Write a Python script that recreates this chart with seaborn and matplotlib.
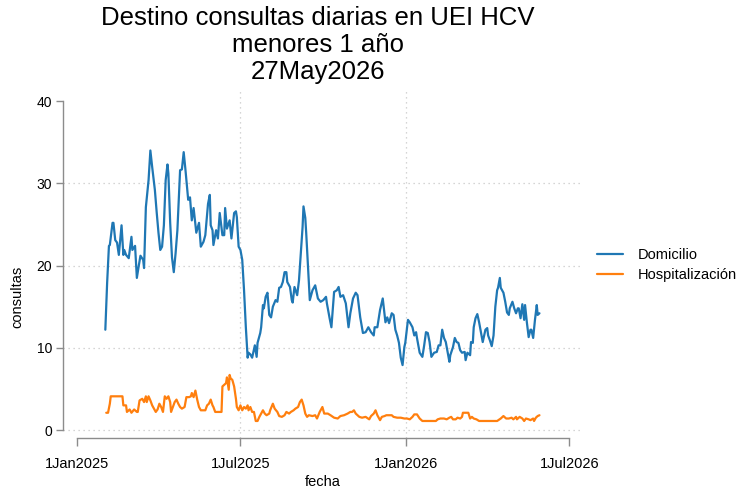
import matplotlib
matplotlib.use("Agg")
import matplotlib.dates as mdates
import matplotlib.pyplot as plt
import pandas as pd
import seaborn as sns

INICIO = "2025-01-01"

# dias desde INICIO y valor diario
DOM_DIA = [
    31, 33, 35, 36, 39, 40, 42, 44, 46, 49, 51, 52, 54, 57, 60, 61, 64, 66, 68, 70,
    73, 74, 76, 79, 81, 83, 86, 88, 90, 92, 94, 96, 98, 100, 101, 103, 105, 107, 109, 111,
    114, 116, 118, 120, 123, 125, 127, 129, 132, 135, 137, 140, 142, 145, 147, 148, 150, 151, 154, 156,
    158, 161, 163, 164, 166, 169, 171, 174, 176, 177, 179, 181, 183, 185, 187, 189, 190, 192, 194, 197,
    199, 200, 203, 204, 206, 207, 209, 211, 213, 215, 217, 220, 222, 224, 226, 228, 230, 232, 233, 236,
    238, 239, 241, 244, 246, 248, 250, 251, 253, 254, 256, 258, 261, 264, 267, 270, 273, 276, 277, 280,
    282, 285, 288, 290, 292, 295, 298, 301, 303, 306, 309, 311, 314, 317, 320, 323, 326, 329, 330, 333,
    336, 339, 340, 342, 344, 346, 349, 351, 353, 355, 357, 359, 361, 363, 364, 367, 369, 372, 374, 376,
    377, 380, 383, 385, 387, 389, 391, 393, 396, 399, 401, 403, 405, 407, 409, 411, 413, 414, 417, 419,
    421, 423, 425, 427, 430, 431, 433, 436, 437, 439, 440, 442, 444, 446, 448, 450, 451, 453, 455, 456,
    458, 460, 462, 464, 466, 467, 469, 470, 473, 475, 477, 479, 480, 483, 485, 487, 489, 490, 492, 494,
    496, 497, 499, 501, 503, 504, 506, 508, 510, 511, 513,
]
DOM_VAL = [
    12.2, 17.9, 22.4, 22.5, 25.2, 25.2, 23.1, 22.8, 21.3, 24.9, 21.3, 21.9, 21.3, 20.9, 23.5, 21.9, 22.4, 18.5, 19.9, 21.2,
    20.7, 19.7, 27.1, 30.4, 34.0, 32.0, 29.2, 26.5, 24.0, 21.9, 22.3, 24.9, 30.4, 32.3, 31.2, 25.2, 21.0, 19.2, 21.5, 24.3,
    31.6, 31.7, 33.8, 31.6, 28.0, 28.3, 25.5, 27.0, 24.0, 25.2, 22.3, 22.9, 23.7, 27.5, 28.6, 24.9, 24.3, 22.5, 24.3, 23.3,
    26.4, 23.7, 23.7, 27.0, 24.5, 25.5, 23.3, 26.4, 26.6, 25.9, 22.3, 21.9, 20.7, 17.0, 12.5, 8.8, 9.4, 9.2, 8.8, 10.3,
    8.9, 10.6, 11.8, 12.5, 15.2, 14.8, 16.2, 16.7, 14.0, 13.7, 15.0, 15.8, 15.6, 17.3, 17.4, 18.0, 19.2, 19.2, 18.0, 17.4,
    15.8, 15.5, 17.4, 16.4, 18.2, 21.5, 24.7, 27.2, 25.8, 24.0, 19.8, 15.8, 17.0, 17.6, 16.0, 15.6, 15.8, 16.2, 15.4, 13.6,
    12.5, 16.8, 17.0, 17.4, 16.2, 16.4, 15.4, 12.5, 14.2, 16.0, 16.7, 16.4, 13.7, 11.8, 11.9, 12.5, 11.9, 11.5, 12.5, 12.5,
    14.6, 16.0, 15.0, 13.1, 13.7, 13.0, 14.2, 14.0, 12.2, 11.5, 10.6, 8.8, 7.9, 10.1, 10.6, 13.4, 13.1, 12.5, 11.5, 11.9,
    11.2, 9.4, 8.9, 10.3, 11.9, 11.8, 10.7, 8.9, 9.4, 9.5, 10.3, 10.3, 12.2, 11.2, 10.7, 9.5, 8.3, 9.1, 10.1, 11.2,
    10.7, 10.6, 9.7, 9.4, 9.5, 8.5, 9.4, 9.1, 10.7, 10.6, 12.5, 13.6, 14.1, 13.1, 11.9, 10.7, 11.2, 12.2, 12.4, 11.5,
    10.9, 10.2, 11.5, 15.0, 17.0, 17.3, 18.5, 17.3, 16.7, 15.6, 14.3, 14.0, 14.8, 15.6, 14.8, 14.2, 14.8, 14.8, 13.6, 15.3,
    13.4, 15.2, 13.1, 11.3, 12.2, 12.2, 11.2, 13.4, 15.2, 14.0, 14.2,
]

HOS_DIA = [
    32, 34, 36, 37, 43, 50, 51, 54, 55, 58, 60, 63, 66, 67, 69, 72, 74, 76, 77, 79,
    81, 83, 85, 87, 89, 91, 93, 95, 97, 99, 101, 103, 104, 106, 108, 110, 112, 114, 116, 119,
    121, 124, 126, 127, 129, 131, 133, 135, 137, 140, 142, 144, 146, 148, 150, 151, 153, 157, 160, 161,
    163, 165, 166, 168, 169, 170, 172, 174, 176, 177, 179, 181, 183, 185, 187, 189, 190, 192, 194, 196,
    198, 200, 202, 204, 206, 208, 210, 213, 214, 217, 219, 222, 224, 227, 230, 232, 235, 237, 240, 242,
    245, 247, 249, 251, 253, 255, 257, 261, 264, 266, 269, 272, 274, 278, 281, 285, 289, 292, 296, 300,
    303, 305, 307, 309, 313, 316, 320, 324, 326, 329, 331, 333, 336, 338, 341, 343, 346, 349, 351, 355,
    359, 363, 366, 369, 372, 374, 377, 380, 383, 398, 400, 403, 407, 410, 413, 415, 417, 420, 422, 425,
    427, 428, 434, 436, 438, 440, 443, 446, 466, 470, 473, 476, 479, 482, 484, 487, 488, 491, 494, 496,
    498, 501, 503, 506, 507, 509, 511, 513,
]
HOS_VAL = [
    2.1, 2.1, 3.2, 4.1, 4.1, 4.1, 3.0, 3.0, 2.2, 2.5, 2.1, 2.5, 2.2, 2.2, 3.6, 3.8, 3.4, 4.1, 3.4, 4.1,
    3.6, 3.0, 2.6, 2.2, 2.5, 3.2, 2.8, 2.2, 4.1, 3.8, 4.1, 3.4, 2.2, 2.8, 3.4, 3.7, 3.2, 2.8, 2.6, 2.8,
    4.0, 4.0, 4.1, 4.5, 4.0, 4.8, 3.7, 2.8, 2.4, 2.4, 2.4, 3.0, 3.2, 3.7, 3.0, 2.8, 2.2, 2.2, 2.2, 5.3,
    5.5, 5.7, 6.4, 4.9, 6.7, 6.3, 6.1, 5.3, 3.8, 2.8, 2.4, 3.0, 2.4, 2.8, 2.6, 3.0, 2.4, 2.8, 2.2, 2.2,
    1.1, 1.1, 1.6, 2.0, 2.4, 2.0, 1.8, 2.0, 2.4, 3.2, 2.6, 2.2, 1.7, 1.6, 1.8, 2.2, 2.0, 2.2, 2.4, 2.6,
    2.8, 3.4, 3.7, 3.0, 2.0, 1.6, 1.8, 1.7, 1.8, 1.4, 2.2, 2.8, 2.0, 2.0, 1.8, 1.5, 1.4, 1.7, 1.8, 2.0,
    2.2, 2.2, 2.4, 2.0, 1.6, 1.5, 1.6, 1.3, 1.7, 2.0, 2.4, 1.8, 1.2, 1.6, 1.7, 1.8, 1.8, 1.8, 1.6, 1.5,
    1.5, 1.4, 1.4, 1.3, 1.6, 1.9, 1.9, 1.4, 1.1, 1.1, 1.3, 1.4, 1.4, 1.3, 1.5, 1.6, 1.3, 1.3, 1.5, 1.4,
    1.6, 2.1, 2.1, 1.4, 1.6, 1.4, 1.3, 1.1, 1.1, 1.4, 1.7, 1.4, 1.4, 1.5, 1.3, 1.6, 1.3, 1.6, 1.4, 1.1,
    1.4, 1.3, 1.2, 1.4, 1.1, 1.5, 1.7, 1.8,
]

SERIES = ["Domicilio", "Hospitalización"]
COLORES = ["#1f77b4", "#ff7f0e"]
Y_TICKS = [0, 10, 20, 30, 40]
X_TICKS = ["2025-01-01", "2025-07-01", "2026-01-01", "2026-07-01"]
X_LABELS = ["1Jan2025", "1Jul2025", "1Jan2026", "1Jul2026"]
TITULO = "Destino consultas diarias en UEI HCV\nmenores 1 año\n27May2026"

assert len(DOM_DIA) == len(DOM_VAL)
assert len(HOS_DIA) == len(HOS_VAL)


def build_frame() -> pd.DataFrame:
    inicio = pd.Timestamp(INICIO)
    dom = pd.DataFrame({
        "fecha": inicio + pd.to_timedelta(DOM_DIA, unit="D"),
        "consultas": DOM_VAL,
        "destino": SERIES[0],
    })
    hos = pd.DataFrame({
        "fecha": inicio + pd.to_timedelta(HOS_DIA, unit="D"),
        "consultas": HOS_VAL,
        "destino": SERIES[1],
    })
    return pd.concat([dom, hos], ignore_index=True)


def main() -> None:
    df = build_frame()

    sns.set_style("white")
    plt.rcParams["font.family"] = ["Liberation Sans", "DejaVu Sans"]
    plt.rcParams["text.color"] = "black"
    plt.rcParams["axes.labelcolor"] = "black"
    plt.rcParams["xtick.labelcolor"] = "black"
    plt.rcParams["ytick.labelcolor"] = "black"

    fig = plt.figure(figsize=(7.4, 4.94), dpi=100)
    ax = fig.add_axes([63 / 740, 56 / 494, 517 / 740, 350 / 494])

    grid_kw = dict(color="#c8c8c8", linestyle=(0, (1, 3)), linewidth=0.9, zorder=0)
    for y in Y_TICKS[:-1]:
        ax.axhline(y, **grid_kw)
    for d in X_TICKS[1:3]:
        ax.axvline(pd.Timestamp(d), **grid_kw)

    sns.lineplot(
        data=df, x="fecha", y="consultas", hue="destino",
        hue_order=SERIES, palette=COLORES, estimator=None,
        linewidth=1.6, ax=ax,
    )

    ax.set_ylim(-0.97, 41.6)
    ax.set_xlim(pd.Timestamp("2024-12-16"), pd.Timestamp("2026-07-13"))

    ax.set_yticks(Y_TICKS)
    ax.set_yticklabels([str(v) for v in Y_TICKS])
    ax.set_xticks(pd.to_datetime(X_TICKS))
    ax.set_xticklabels(X_LABELS)

    for side in ["top", "right"]:
        ax.spines[side].set_visible(False)
    for side in ["left", "bottom"]:
        ax.spines[side].set_color("#8c8c8c")
        ax.spines[side].set_linewidth(1.0)
    ax.spines["left"].set_bounds(0, 40)
    ax.spines["bottom"].set_bounds(
        mdates.date2num(pd.Timestamp(X_TICKS[0])),
        mdates.date2num(pd.Timestamp(X_TICKS[-1])),
    )

    ax.tick_params(axis="y", length=5, width=1.0, color="#8c8c8c", labelsize=10, pad=3, left=True)
    ax.tick_params(axis="x", length=6, width=1.0, color="#8c8c8c", labelsize=10.5, pad=8, bottom=True)

    ax.set_xlabel("fecha", fontsize=10.5)
    ax.set_ylabel("consultas", fontsize=10.5)
    ax.yaxis.set_label_coords((24 - 63) / 517, (406 - 265) / 350, transform=ax.transAxes)
    ax.xaxis.set_label_coords((323 - 63) / 517, -(475 - 438) / 350, transform=ax.transAxes)

    fig.text(318 / 740, 1 - 6 / 494, TITULO, ha="center", va="top",
             fontsize=18.5, linespacing=1.16)

    sns.move_legend(
        ax, "center left", bbox_to_anchor=(597 / 740, 1 - 265 / 494),
        bbox_transform=fig.transFigure, frameon=False, title=None,
        fontsize=10.5, handlelength=1.8, handletextpad=1.0,
        labelspacing=0.45, borderpad=0, borderaxespad=0,
    )

    fig.savefig("out.png", dpi=100)
    plt.close(fig)


if __name__ == "__main__":
    main()
